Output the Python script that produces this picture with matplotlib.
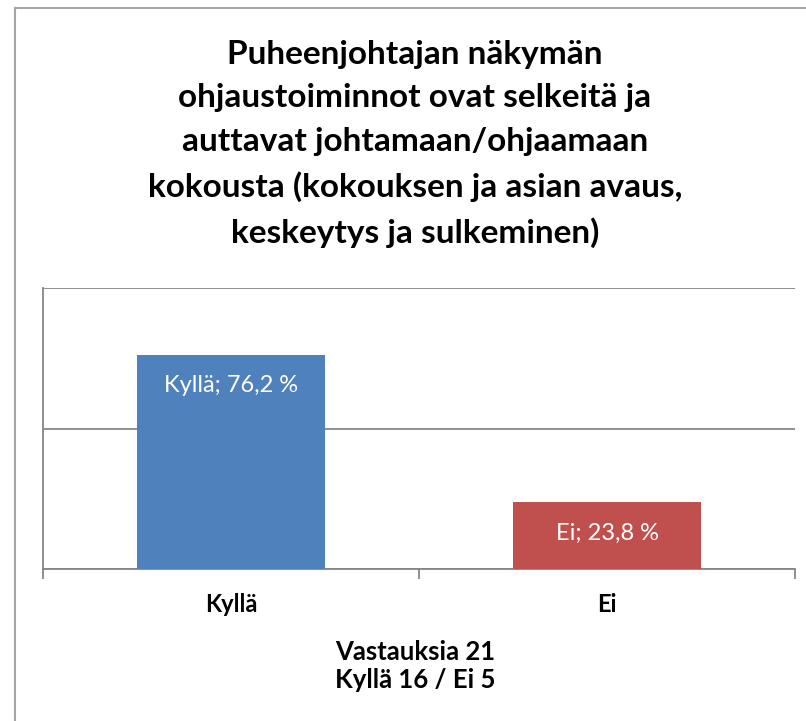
import matplotlib
matplotlib.use("Agg")
import matplotlib.pyplot as plt
from matplotlib.lines import Line2D

categories = ["Kyllä", "Ei"]
values = [76.2, 23.8]
colors = ["#4F81BD", "#C0504D"]
title = ("Puheenjohtajan näkymän\nohjaustoiminnot ovat selkeitä ja\n"
         "auttavat johtamaan/ohjaamaan\nkokousta (kokouksen ja asian avaus,\n"
         "keskeytys ja sulkeminen)")
footer = "Vastauksia 21\nKyllä 16 / Ei 5"

plt.rcParams['font.family'] = ['Lato', 'DejaVu Sans']

W, H = 806, 721
fig = plt.figure(figsize=(W / 100, H / 100), dpi=100)
fig.patch.set_facecolor("white")

# outer chart border (left and top visible)
fig.add_artist(Line2D([15 / W, 15 / W], [0, 1 - 8 / H], transform=fig.transFigure,
                      color="#A6A6A6", lw=1.5))
fig.add_artist(Line2D([15 / W, 1], [1 - 8 / H, 1 - 8 / H], transform=fig.transFigure,
                      color="#A6A6A6", lw=1.5))

ax = fig.add_axes([43 / W, 1 - 569 / H, (795 - 43) / W, (569 - 288) / H])
x = range(len(categories))
bars = ax.bar(x, values, width=0.5, color=colors, zorder=3)
ax.set_xlim(-0.5, len(categories) - 0.5)
ax.set_ylim(0, 100)
ax.set_yticks([0, 50, 100])
ax.yaxis.grid(True, color="#868686", lw=1.3, zorder=0)
ax.tick_params(axis="y", length=0, labelleft=False)
ax.set_xticks([-0.5, 0.5, 1.5], minor=True)
ax.set_xticks(list(x))
ax.set_xticklabels(categories, fontsize=17, fontweight="bold")
ax.tick_params(axis="x", which="major", length=0, pad=17)
ax.tick_params(axis="x", which="minor", length=7, color="#868686", width=1.3)
for s in ["top", "right"]:
    ax.spines[s].set_visible(False)
for s in ["left", "bottom"]:
    ax.spines[s].set_color("#868686")
    ax.spines[s].set_linewidth(1.3)

for b, c, v in zip(bars, categories, values):
    ax.text(b.get_x() + b.get_width() / 2, v - 11,
            f"{c}; {v:.1f} %".replace(".", ","),
            ha="center", va="center", color="white", fontsize=17, zorder=4)

fig.text(415 / W, 1 - 144 / H, title, ha="center", va="center",
         fontsize=24, fontweight="bold", linespacing=1.6)
fig.text(415 / W, 1 - 666 / H, footer, ha="center", va="center",
         fontsize=18.5, fontweight="bold", linespacing=1.25)

fig.savefig("out.png", dpi=100, facecolor="white")
